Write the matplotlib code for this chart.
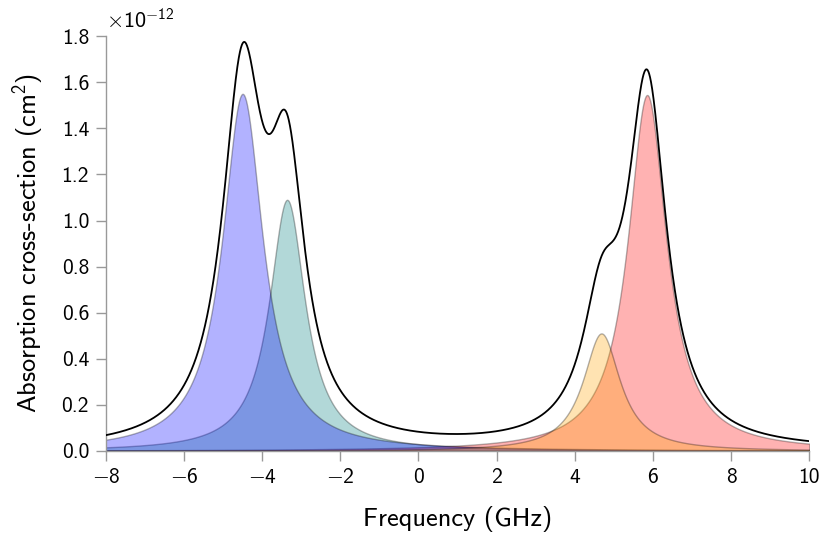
import numpy as np
import matplotlib
matplotlib.use("Agg")
import matplotlib.pyplot as plt
from matplotlib.ticker import FuncFormatter

# line parameters (centre GHz, peak cm^2 in 1e-12, HWHM GHz)
names = ["teal", "red", "blue", "orange"]
centers = [-3.36, 5.85, -4.5, 4.68]
peaks = [1.09, 1.545, 1.55, 0.51]
widths = [0.56, 0.60, 0.63, 0.58]
colors = ["teal", "red", "blue", "orange"]

x_ticks = [-8, -6, -4, -2, 0, 2, 4, 6, 8, 10]
y_ticks = [0.0, 0.2, 0.4, 0.6, 0.8, 1.0, 1.2, 1.4, 1.6, 1.8]

plt.rcParams["font.family"] = "cmss10"
plt.rcParams["mathtext.fontset"] = "custom"
plt.rcParams["mathtext.rm"] = "cmss10"
plt.rcParams["mathtext.sf"] = "cmss10"
plt.rcParams["mathtext.cal"] = "cmsy10"

# minus sign glyph of cmsy10 (BaKoMa encoding)
MINUS = "\\mathcal{\u00a1}"


def lorentz(f, c, a, g):
    return a / (1.0 + ((f - c) / g) ** 2)


def xfmt(v, pos):
    if v < 0:
        return "$%s\\mathrm{%d}$" % (MINUS, abs(v))
    return "%d" % v


freq = np.linspace(-8, 10, 3000)
fig = plt.figure(figsize=(8.2, 5.33), dpi=100)
ax = fig.add_axes([0.129, 0.154, 0.858, 0.778])

total = np.zeros_like(freq)
for c, a, g, col in zip(centers, peaks, widths, colors):
    y = lorentz(freq, c, a, g) * 1e-12
    total += y
    ax.fill_between(freq, 0, y, facecolor=col, edgecolor="k", linewidth=1.0, alpha=0.3)

ax.plot(freq, total, color="k", linewidth=1.3, zorder=5)

ax.set_xlim(-8, 10)
ax.set_ylim(0, 1.8e-12)
ax.set_xticks(x_ticks)
ax.set_yticks([v * 1e-12 for v in y_ticks])
ax.xaxis.set_major_formatter(FuncFormatter(xfmt))
ax.yaxis.set_major_formatter(FuncFormatter(lambda v, pos: "%.1f" % (v / 1e-12)))

for side in ("top", "right"):
    ax.spines[side].set_visible(False)
for side in ("left", "bottom"):
    ax.spines[side].set_color("#999999")
    ax.spines[side].set_linewidth(1.0)
ax.tick_params(colors="#999999", labelcolor="black", labelsize=15.5, length=7, width=1.0, pad=5)

ax.text(0.0, 1.012, "$\\times\\mathrm{10}^{%s\\mathrm{12}}$" % MINUS, transform=ax.transAxes,
        ha="left", va="bottom", fontsize=16)

ax.set_xlabel("Frequency (GHz)", fontsize=19, labelpad=14)
ax.set_ylabel("Absorption cross-section (cm$^{2}$)", fontsize=19, labelpad=11)

fig.savefig("out.png", dpi=100, facecolor="white")
